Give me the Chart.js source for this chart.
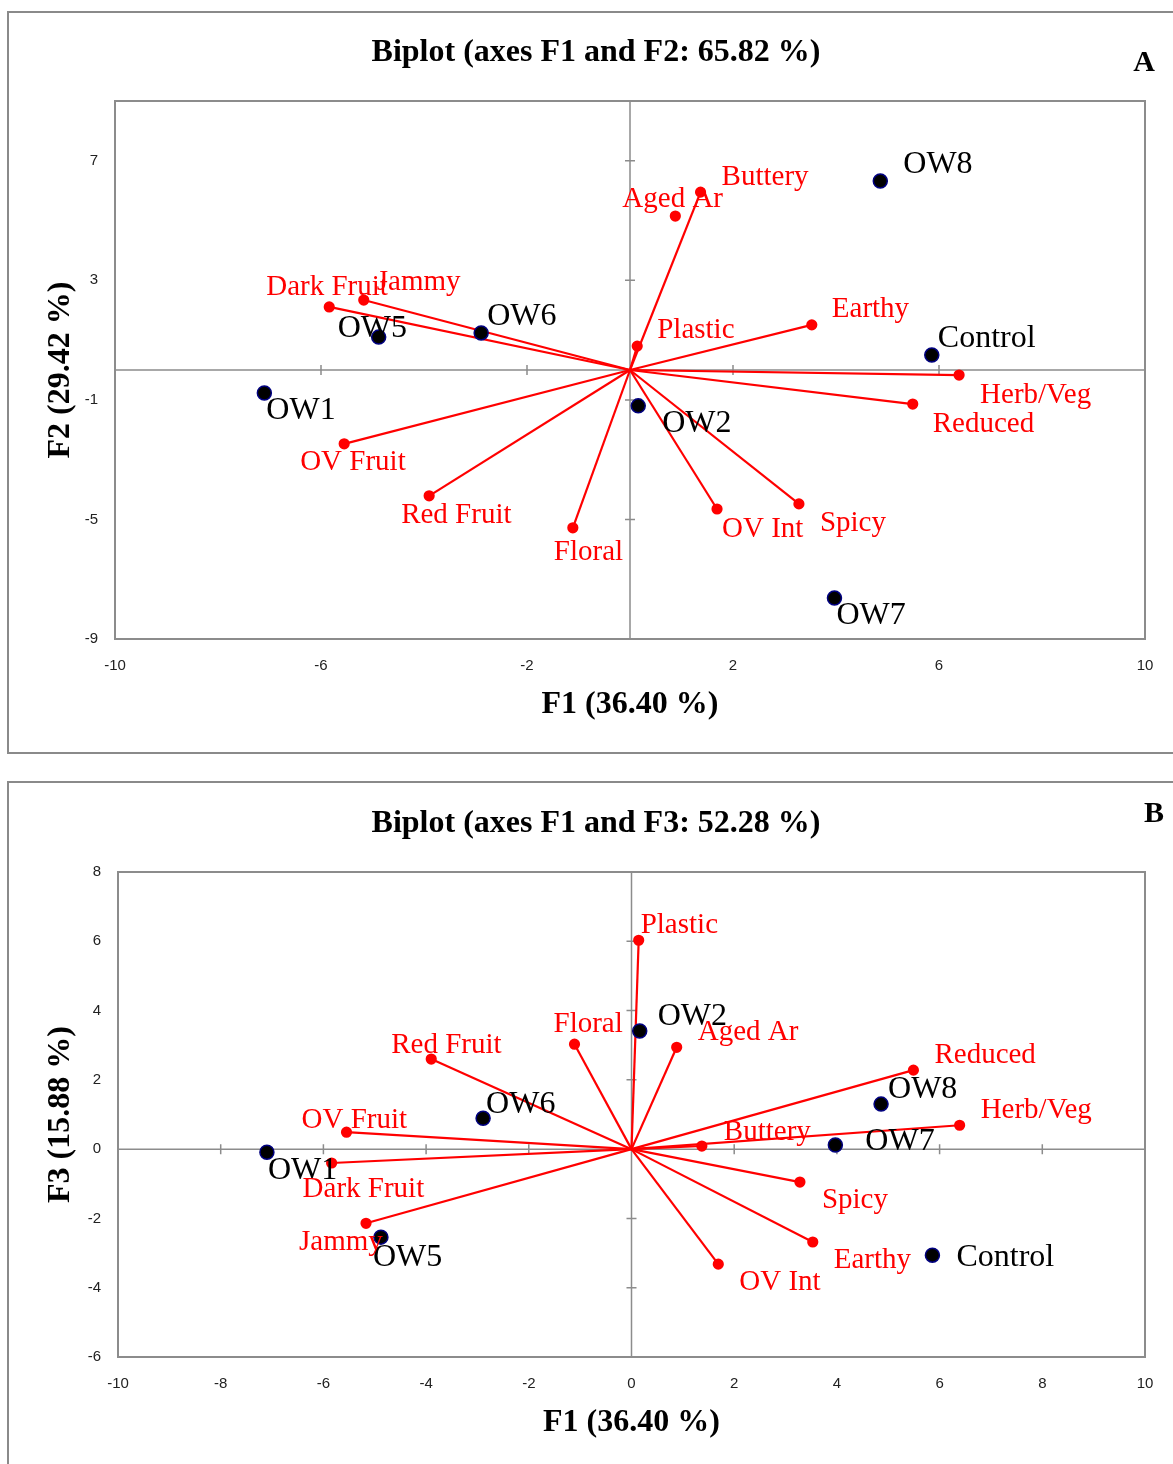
<!DOCTYPE html>
<html lang="en">
<head>
<meta charset="UTF-8">
<title>Biplots F1-F2 and F1-F3</title>
<script src="https://cdn.jsdelivr.net/npm/chart.js"></script>
<style>
    body { margin: 0; background: #fff; width: 1173px; height: 1464px; overflow: hidden; position: relative; }
    .panel { position: absolute; border: 2px solid #8a8a8a; box-sizing: border-box; }
    #panelA { left: 7px; top: 11px; width: 1200px; height: 743px; }
    #panelB { left: 7px; top: 781px; width: 1200px; height: 720px; }
    canvas { position: absolute; left: 0; }
    #chartA { top: 0; }
    #chartB { top: 770px; }
</style>
</head>
<body>
<div class="panel" id="panelA"></div>
<div class="panel" id="panelB"></div>
<canvas id="chartA" width="1173" height="760"></canvas>
<canvas id="chartB" width="1173" height="694"></canvas>

<script>
// variables (red vectors)
const varNames = ["Buttery", "Aged Ar", "Dark Fruit", "Jammy", "Plastic", "Earthy", "Herb/Veg",
                  "Reduced", "OV Fruit", "Red Fruit", "Floral", "OV Int", "Spicy"];
const varF1 = [1.37, 0.88, -5.84, -5.17, 0.14, 3.53, 6.39, 5.49, -5.55, -3.90, -1.11, 1.69, 3.28];
const varF2 = [5.95, 5.15, 2.11, 2.34, 0.80, 1.51, -0.17, -1.14, -2.47, -4.21, -5.28, -4.65, -4.48];
const varF3 = [0.09, 2.94, -0.40, -2.14, 6.03, -2.68, 0.69, 2.28, 0.49, 2.60, 3.03, -3.32, -0.95];

// observations (wines)
const obsNames = ["OW1", "OW2", "OW5", "OW6", "OW7", "OW8", "Control"];
const obsF1 = [-7.10, 0.16, -4.88, -2.89, 3.97, 4.86, 5.86];
const obsF2 = [-0.77, -1.20, 1.10, 1.24, -7.63, 6.32, 0.50];
const obsF3 = [-0.09, 3.41, -2.54, 0.89, 0.12, 1.30, -3.06];

// tick labels
const xTicksA = [-10, -6, -2, 2, 6, 10];
const yTicksA = [-9, -5, -1, 3, 7];
const xTicksB = [-10, -8, -6, -4, -2, 0, 2, 4, 6, 8, 10];
const yTicksB = [-6, -4, -2, 0, 2, 4, 6, 8];

// in panel A the Aged Ar point has no vector drawn
const noVectorA = ["Aged Ar"];
const noVectorB = [];

// label offsets in pixels (text left edge, vertical middle) from the point
const labelPosA = {
    "OW8": [23, -17], "Control": [6, -16], "OW6": [6, -16], "OW5": [-41, -9], "OW1": [2, 18],
    "OW2": [24, 18], "OW7": [2, 18],
    "Buttery": [21, -15], "Aged Ar": [-53, -17], "Dark Fruit": [-63, -20], "Jammy": [13, -18],
    "Plastic": [20, -16], "Earthy": [20, -15], "Herb/Veg": [21, 20], "Reduced": [20, 20],
    "OV Fruit": [-44, 19], "Red Fruit": [-28, 20], "Floral": [-19, 25], "OV Int": [5, 20], "Spicy": [21, 19]
};
const labelPosB = {
    "OW2": [18, -14], "OW8": [7, -15], "OW6": [3, -14], "OW7": [30, -3], "OW1": [1, 18],
    "OW5": [-8, 20], "Control": [24, 2],
    "Plastic": [2, -15], "Floral": [-21, -20], "Aged Ar": [21, -15], "Red Fruit": [-40, -14],
    "Reduced": [21, -15], "Herb/Veg": [21, -15], "OV Fruit": [-45, -12], "Buttery": [22, -14],
    "Dark Fruit": [-29, 26], "Spicy": [22, 18], "Jammy": [-67, 19], "Earthy": [21, 18], "OV Int": [21, 18]
};

const RED = "#ff0000";
const GREY = "#8c8c8c";
const SERIF = "'Liberation Serif', 'Times New Roman', serif";

// zero axes, tick marks, plot frame, texts
const biplotDecor = {
    id: "biplotDecor",
    beforeDatasetsDraw(chart, args, opts) {
        const ctx = chart.ctx, a = chart.chartArea;
        const xs = chart.scales.x, ys = chart.scales.y;
        const x0 = xs.getPixelForValue(0), y0 = ys.getPixelForValue(0);
        ctx.save();
        ctx.strokeStyle = GREY;
        ctx.lineWidth = 1.5;
        ctx.beginPath();
        ctx.moveTo(x0, a.top); ctx.lineTo(x0, a.bottom);
        ctx.moveTo(a.left, y0); ctx.lineTo(a.right, y0);
        opts.xTicks.forEach(v => {
            if (v === 0 || v === xs.min || v === xs.max) return;
            const px = xs.getPixelForValue(v);
            ctx.moveTo(px, y0 - 5); ctx.lineTo(px, y0 + 5);
        });
        opts.yTicks.forEach(v => {
            if (v === 0 || v === ys.min || v === ys.max) return;
            const py = ys.getPixelForValue(v);
            ctx.moveTo(x0 - 5, py); ctx.lineTo(x0 + 5, py);
        });
        ctx.stroke();
        ctx.lineWidth = 2;
        ctx.strokeRect(a.left, a.top, a.right - a.left, a.bottom - a.top);
        ctx.restore();
    },
    afterDatasetsDraw(chart, args, opts) {
        const ctx = chart.ctx, a = chart.chartArea;
        ctx.save();
        ctx.textBaseline = "middle";
        chart.data.datasets.forEach((ds, i) => {
            const meta = chart.getDatasetMeta(i);
            ds.data.forEach((pt, j) => {
                if (!pt.name) return;
                const el = meta.data[j];
                const off = opts.labelPos[pt.name] || [8, -14];
                ctx.font = ds.labelSize + "px " + SERIF;
                ctx.fillStyle = ds.labelColor;
                ctx.textAlign = "left";
                ctx.fillText(pt.name, el.x + off[0], el.y + off[1]);
            });
        });
        // title and panel letter
        ctx.fillStyle = "#000";
        ctx.textAlign = "center";
        ctx.font = "bold 32px " + SERIF;
        ctx.fillText(opts.title, 596, opts.titleY);
        ctx.font = "bold 30px " + SERIF;
        ctx.fillText(opts.letter, opts.letterX, opts.letterY);
        // axis titles
        ctx.font = "bold 32px " + SERIF;
        ctx.fillText(opts.xTitle, (a.left + a.right) / 2, a.bottom + 66);
        ctx.translate(61, (a.top + a.bottom) / 2);
        ctx.rotate(-Math.PI / 2);
        ctx.fillText(opts.yTitle, 0, 0);
        ctx.restore();
    }
};

function buildChart(canvasId, yValues, obsY, xTicks, yTicks, xMin, xMax, yMin, yMax, noVector, layout, decor) {
    const datasets = [];
    datasets.push({
        label: "Observations",
        data: obsNames.map((n, i) => ({ x: obsF1[i], y: obsY[i], name: n })),
        pointRadius: 7,
        pointBackgroundColor: "#000000",
        pointBorderColor: "#000080",
        pointBorderWidth: 1.5,
        showLine: false,
        labelColor: "#000000",
        labelSize: 32
    });
    varNames.forEach((n, i) => {
        datasets.push({
            label: n,
            data: [{ x: 0, y: 0 }, { x: varF1[i], y: yValues[i], name: n }],
            showLine: !noVector.includes(n),
            borderColor: RED,
            borderWidth: 2.2,
            pointRadius: [0, 4.5],
            pointBackgroundColor: RED,
            pointBorderColor: RED,
            labelColor: RED,
            labelSize: 29
        });
    });

    return new Chart(document.getElementById(canvasId), {
        type: "scatter",
        data: { datasets: datasets },
        options: {
            responsive: false,
            animation: false,
            layout: { padding: { top: layout.top, right: layout.right, left: 0, bottom: 0 } },
            plugins: {
                legend: { display: false },
                tooltip: { enabled: false },
                biplotDecor: decor
            },
            scales: {
                x: {
                    type: "linear",
                    min: xMin, max: xMax,
                    grid: { display: false, drawTicks: false },
                    border: { display: false },
                    afterBuildTicks: s => { s.ticks = xTicks.map(v => ({ value: v })); },
                    afterFit: s => { s.height = layout.xHeight; },
                    ticks: { padding: 18, color: "#222", font: { family: "'Liberation Sans', Arial, sans-serif", size: 15 } }
                },
                y: {
                    type: "linear",
                    min: yMin, max: yMax,
                    grid: { display: false, drawTicks: false },
                    border: { display: false },
                    afterBuildTicks: s => { s.ticks = yTicks.map(v => ({ value: v })); },
                    afterFit: s => { s.width = layout.yWidth; },
                    ticks: { padding: 17, color: "#222", font: { family: "'Liberation Sans', Arial, sans-serif", size: 15 } }
                }
            }
        },
        plugins: [biplotDecor]
    });
}

document.addEventListener("DOMContentLoaded", function () {
    buildChart("chartA", varF2, obsF2, xTicksA, yTicksA, -10, 10, -9, 9, noVectorA,
        { top: 101, right: 28, yWidth: 115, xHeight: 121 },
        { xTicks: xTicksA, yTicks: yTicksA, labelPos: labelPosA,
          title: "Biplot (axes F1 and F2: 65.82 %)", titleY: 53,
          letter: "A", letterX: 1144, letterY: 63,
          xTitle: "F1 (36.40 %)", yTitle: "F2 (29.42 %)" });

    buildChart("chartB", varF3, obsF3, xTicksB, yTicksB, -10, 10, -6, 8, noVectorB,
        { top: 102, right: 28, yWidth: 118, xHeight: 107 },
        { xTicks: xTicksB, yTicks: yTicksB, labelPos: labelPosB,
          title: "Biplot (axes F1 and F3: 52.28 %)", titleY: 54,
          letter: "B", letterX: 1154, letterY: 44,
          xTitle: "F1 (36.40 %)", yTitle: "F3 (15.88 %)" });
});
</script>
</body>
</html>
